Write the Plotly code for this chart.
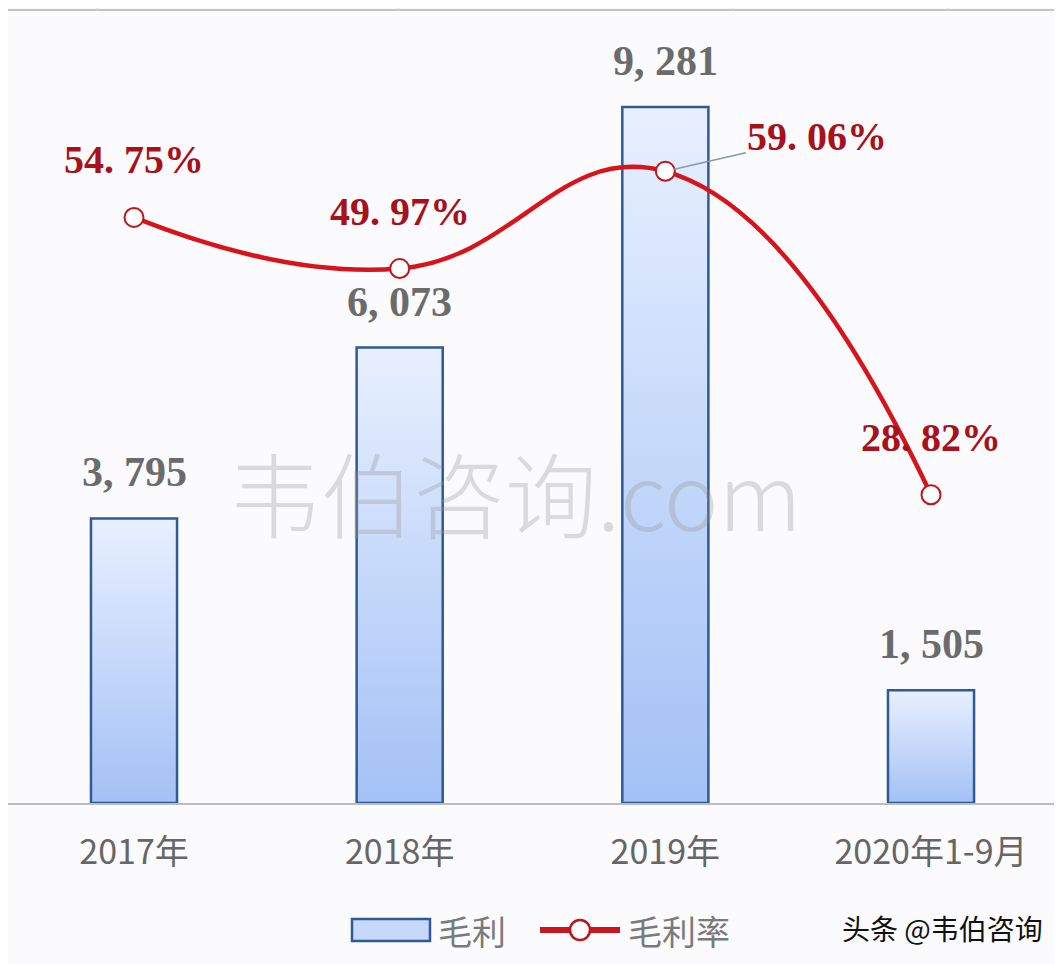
import plotly.graph_objects as go

categories = ["2017年", "2018年", "2019年", "2020年1-9月"]
gross_profit = [3795, 6073, 9281, 1505]
gross_margin = [54.75, 49.97, 59.06, 28.82]

# label placement (style): "above" or "right"
pct_place = ["above", "above", "right", "above"]

BG = "#fbfbfd"
W, H = 1054, 956          # page has an 8px body margin
fig = go.Figure()


def px(x):   # page x -> paper x
    return (x - 8) / W


def py(y):   # page y -> paper y (plot spans page y 20..803)
    return (803 - y) / 783


half = 0.162
for i, v in enumerate(gross_profit):
    fig.add_trace(go.Scatter(
        x=[i - half, i + half, i + half, i - half, i - half],
        y=[0, 0, v, v, 0],
        mode="lines",
        fill="toself",
        fillgradient=dict(type="vertical",
                          colorscale=[[0, "#a3c1f5"], [1, "#e8f0ff"]]),
        line=dict(color="#2f5a93", width=2.5),
        name="毛利",
        showlegend=False,
        hoverinfo="skip",
    ))

fig.add_trace(go.Scatter(
    x=list(range(len(categories))),
    y=gross_margin,
    yaxis="y2",
    mode="lines+markers",
    line=dict(color="#d7141c", width=4.5, shape="spline", smoothing=1.3),
    marker=dict(size=19, color="white", line=dict(color="#c0141c", width=2)),
    name="毛利率",
    showlegend=False,
))

ann = []
for i, v in enumerate(gross_profit):
    ann.append(dict(
        x=i, y=v, xref="x", yref="y", yanchor="bottom",
        text=f"{v:,}".replace(",", ", "), showarrow=False, yshift=21,
        font=dict(family="Liberation Serif, DejaVu Serif", size=42,
                  color="#6b6b6b", weight="bold"),
    ))
for i, v in enumerate(gross_margin):
    txt = f"{v:.2f}%".replace(".", ". ")
    font = dict(family="Liberation Serif, DejaVu Serif", size=40,
                color="#a8101a", weight="bold")
    if pct_place[i] == "right":
        ann.append(dict(
            x=i, y=v, xref="x", yref="y2", text=txt, showarrow=True,
            ax=152, ay=-35, arrowhead=0, arrowwidth=1.5, arrowcolor="#8a98a8",
            standoff=9, font=font,
        ))
    else:
        ann.append(dict(
            x=i, y=v, xref="x", yref="y2", yanchor="bottom", text=txt,
            showarrow=False, yshift=33, font=font,
        ))

# watermark
ann.append(dict(
    x=px(515), y=py(490), xref="paper", yref="paper", xanchor="center", yanchor="middle",
    text="韦伯咨询.com", showarrow=False,
    font=dict(family="Noto Sans CJK SC", size=92, color="rgba(150,150,150,0.32)", weight=300),
))
# source tag
ann.append(dict(
    x=px(942), y=py(928), xref="paper", yref="paper", xanchor="center", yanchor="middle",
    text="头条 @韦伯咨询", showarrow=False,
    font=dict(family="Noto Sans CJK SC", size=28, color="#111111"),
))

legend_font = dict(family="Noto Sans CJK SC", size=34, color="#7a7a7a")
ann.append(dict(x=px(436), y=py(930), xref="paper", yref="paper", xanchor="left",
                yanchor="middle", text="毛利", showarrow=False, font=legend_font))
ann.append(dict(x=px(626), y=py(930), xref="paper", yref="paper", xanchor="left",
                yanchor="middle", text="毛利率", showarrow=False, font=legend_font))

shapes = [
    dict(type="line", xref="paper", yref="paper", x0=0, x1=1, y0=py(10), y1=py(10),
         line=dict(color="#c4c4c4", width=2)),
    # legend keys
    dict(type="rect", xref="paper", yref="paper", x0=px(352), x1=px(430),
         y0=py(941), y1=py(919), fillcolor="#c6d9fa", line=dict(color="#2f5a93", width=2.5)),
    dict(type="line", xref="paper", yref="paper", x0=px(540), x1=px(620),
         y0=py(930), y1=py(930), line=dict(color="#c8161e", width=6)),
    dict(type="circle", xref="paper", yref="paper", x0=px(570), x1=px(590),
         y0=py(940), y1=py(920), fillcolor="white", line=dict(color="#c0141c", width=2.5)),
]
for xp in [97, 398, 733, 948]:
    shapes.append(dict(type="line", xref="paper", yref="paper",
                       x0=px(xp), x1=px(xp), y0=py(10), y1=py(8),
                       line=dict(color="#d8d8d8", width=1)))

fig.update_layout(
    width=W, height=H,
    margin=dict(l=0, r=0, t=12, b=161),
    paper_bgcolor=BG, plot_bgcolor=BG,
    xaxis=dict(
        range=[-0.4743, 3.493], tickvals=list(range(len(categories))), ticktext=categories,
        showgrid=False, zeroline=False, showline=True, linecolor="#bdbdbd", linewidth=2,
        ticks="", ticklabelstandoff=18,
        tickfont=dict(family="Liberation Sans Narrow, Noto Sans CJK SC", size=34, color="#666666"),
    ),
    yaxis=dict(range=[0, 10441], visible=False, showgrid=False),
    yaxis2=dict(range=[0, 73.21], overlaying="y", visible=False, showgrid=False),
    annotations=ann,
    shapes=shapes,
    showlegend=False,
)

fig.write_html("out.html")
